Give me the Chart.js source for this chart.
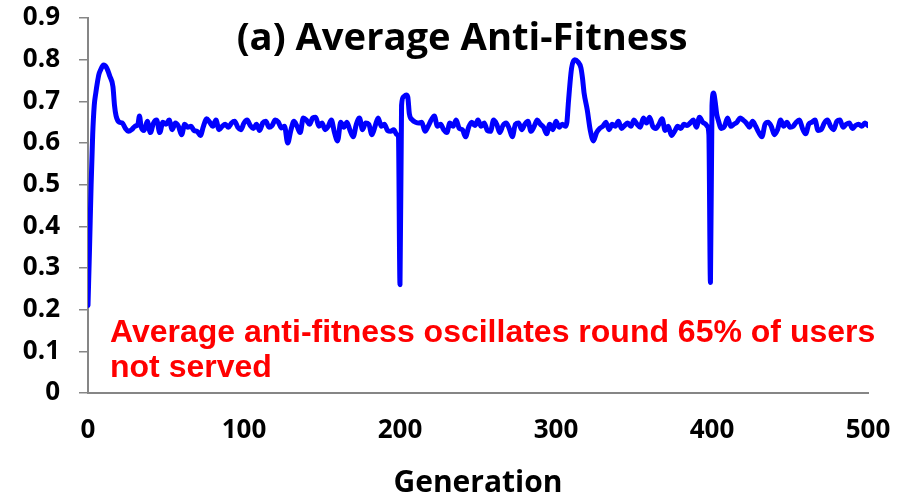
<!DOCTYPE html>
<html>
<head>
<meta charset="utf-8">
<script src="https://cdn.jsdelivr.net/npm/chart.js@4/dist/chart.umd.min.js"></script>
<style>
  html, body { margin: 0; padding: 0; background: #fff; }
  #wrap { width: 906px; height: 497px; position: relative; }
</style>
</head>
<body>
<div id="wrap"><canvas id="fitnessChart" width="906" height="497"></canvas></div>
<script>
// data

const chartTitle = '(a) Average Anti-Fitness';
const noteLines = ['Average anti-fitness oscillates round 65% of users', 'not served'];
const xTickLabels = [0, 100, 200, 300, 400, 500];
const yTickLabels = [0, 0.1, 0.2, 0.3, 0.4, 0.5, 0.6, 0.7, 0.8, 0.9];

const generations = [
    0, 1, 2, 3, 4, 5, 6, 7, 8, 10, 12, 14, 16, 17, 18, 20, 22, 24, 26, 28, 30,
    32, 33, 34, 36, 38, 40, 42, 44, 46, 48, 50, 52, 54, 56, 58, 60, 62, 64, 66, 68,
    70, 72, 74, 76, 78, 80, 82, 84, 86, 88, 90, 92, 94, 96, 98, 100, 102, 104, 106, 108,
    110, 112, 114, 116, 118, 120, 122, 124, 126, 128, 130, 132, 134, 136, 138, 140, 142, 144, 146, 148,
    150, 152, 154, 156, 158, 160, 162, 164, 166, 168, 170, 172, 174, 176, 178, 180, 182, 184, 186, 188,
    190, 192, 194, 196, 198, 199, 200, 201, 202, 204, 205, 206, 208, 210, 212, 214, 216, 218, 220, 222,
    224, 226, 228, 230, 232, 234, 236, 238, 240, 242, 244, 246, 248, 250, 252, 254, 256, 258, 260, 262,
    264, 266, 268, 270, 272, 274, 276, 278, 280, 282, 284, 286, 288, 290, 292, 294, 296, 298, 300, 302,
    304, 306, 307, 308, 310, 312, 314, 316, 317, 318, 320, 322, 324, 326, 328, 330, 332, 334, 336, 338,
    340, 342, 344, 346, 348, 350, 352, 354, 356, 358, 360, 362, 364, 366, 368, 370, 372, 374, 376, 378,
    380, 382, 384, 386, 388, 390, 392, 394, 396, 397, 398, 399, 400, 401, 402, 403, 404, 406, 408, 410,
    412, 414, 416, 418, 420, 422, 424, 426, 428, 430, 432, 434, 436, 438, 440, 442, 444, 446, 448, 450,
    452, 454, 456, 458, 460, 462, 464, 466, 468, 470, 472, 474, 476, 478, 480, 482, 484, 486, 488, 490,
    492, 494, 496, 498, 500
];

const antiFitness = [
    0.21, 0.35, 0.50, 0.62, 0.69, 0.72, 0.745, 0.765, 0.775, 0.787, 0.78, 0.76, 0.735, 0.69, 0.665, 0.65, 0.648, 0.635, 0.628, 0.632, 0.64,
    0.645, 0.665, 0.64, 0.63, 0.652, 0.625, 0.648, 0.655, 0.625, 0.65, 0.645, 0.655, 0.632, 0.648, 0.64, 0.62, 0.645, 0.638, 0.64, 0.63,
    0.628, 0.618, 0.64, 0.658, 0.65, 0.64, 0.655, 0.632, 0.64, 0.645, 0.638, 0.648, 0.652, 0.638, 0.632, 0.648, 0.655, 0.642, 0.635, 0.645,
    0.63, 0.648, 0.652, 0.638, 0.642, 0.655, 0.65, 0.636, 0.64, 0.60, 0.63, 0.652, 0.64, 0.625, 0.66, 0.655, 0.645, 0.66, 0.662, 0.64,
    0.648, 0.632, 0.64, 0.655, 0.625, 0.605, 0.65, 0.638, 0.65, 0.63, 0.615, 0.645, 0.66, 0.632, 0.648, 0.645, 0.62, 0.64, 0.66, 0.64,
    0.645, 0.63, 0.628, 0.632, 0.62, 0.615, 0.26, 0.69, 0.71, 0.715, 0.71, 0.67, 0.655, 0.65, 0.648, 0.65, 0.628, 0.64, 0.655, 0.665,
    0.64, 0.645, 0.632, 0.625, 0.648, 0.64, 0.655, 0.635, 0.632, 0.615, 0.638, 0.65, 0.642, 0.655, 0.64, 0.648, 0.63, 0.628, 0.655, 0.645,
    0.625, 0.642, 0.648, 0.635, 0.615, 0.645, 0.648, 0.632, 0.645, 0.652, 0.628, 0.64, 0.655, 0.645, 0.638, 0.622, 0.645, 0.632, 0.652, 0.638,
    0.645, 0.64, 0.65, 0.70, 0.78, 0.80, 0.795, 0.78, 0.755, 0.72, 0.68, 0.63, 0.605, 0.625, 0.635, 0.64, 0.65, 0.632, 0.645, 0.64,
    0.652, 0.635, 0.642, 0.648, 0.64, 0.655, 0.645, 0.638, 0.66, 0.648, 0.662, 0.64, 0.635, 0.645, 0.658, 0.63, 0.64, 0.618, 0.628, 0.64,
    0.635, 0.645, 0.642, 0.648, 0.655, 0.638, 0.662, 0.65, 0.645, 0.64, 0.62, 0.265, 0.69, 0.72, 0.70, 0.67, 0.655, 0.635, 0.64, 0.66,
    0.64, 0.645, 0.65, 0.66, 0.655, 0.648, 0.638, 0.652, 0.64, 0.625, 0.615, 0.645, 0.65, 0.64, 0.62, 0.632, 0.655, 0.64, 0.65, 0.638,
    0.64, 0.65, 0.655, 0.635, 0.622, 0.645, 0.65, 0.655, 0.63, 0.632, 0.648, 0.655, 0.64, 0.632, 0.652, 0.655, 0.638, 0.645, 0.648, 0.635,
    0.642, 0.645, 0.64, 0.648, 0.642
];

const points = generations.map((g, i) => ({ x: g, y: antiFitness[i] }));

// titre et note en rouge, dessines par-dessus la zone du graphique
const textPlugin = {
    id: 'textPlugin',
    afterDraw(chart) {
        const ctx = chart.ctx;
        ctx.save();
        ctx.fillStyle = '#000';
        ctx.font = 'bold 34px "Open Sans"';
        const w = ctx.measureText(chartTitle).width;
        const size = Math.min(40, 34 * 451 / w);
        ctx.font = 'bold ' + size.toFixed(1) + 'px "Open Sans"';
        ctx.textAlign = 'center';
        ctx.textBaseline = 'middle';
        ctx.fillText(chartTitle, 462, 39);

        ctx.fillStyle = '#FF0000';
        ctx.font = 'bold 32px "Liberation Sans"';
        ctx.textAlign = 'left';
        ctx.fillText(noteLines[0], 110, 333);
        ctx.fillText(noteLines[1], 110, 368);
        ctx.restore();
    }
};

const axisGray = '#868686';
const labelFont = { family: 'Open Sans', weight: 'bold', size: 26 };

new Chart(document.getElementById('fitnessChart'), {
    type: 'line',
    data: {
        datasets: [{
            label: 'Average Anti-Fitness',
            data: points,
            borderColor: '#0000FF',
            borderWidth: 5,
            pointRadius: 0,
            fill: false,
            cubicInterpolationMode: 'monotone',
            borderJoinStyle: 'round',
            borderCapStyle: 'round'
        }]
    },
    plugins: [textPlugin],
    options: {
        responsive: false,
        animation: false,
        layout: { padding: { top: 18, right: 38, left: 0, bottom: 0 } },
        plugins: {
            legend: { display: false },
            tooltip: { enabled: false }
        },
        scales: {
            x: {
                type: 'linear',
                min: xTickLabels[0],
                max: xTickLabels[xTickLabels.length - 1],
                afterBuildTicks: (scale) => { scale.ticks = xTickLabels.map(v => ({ value: v })); },
                grid: { display: true, drawOnChartArea: false, drawTicks: false },
                border: { color: axisGray, width: 2 },
                ticks: {
                    color: '#000',
                    font: labelFont,
                    padding: 22,
                    maxRotation: 0
                },
                title: {
                    display: true,
                    text: 'Generation',
                    color: '#000',
                    font: { family: 'Open Sans', weight: 'bold', size: 30 },
                    padding: { top: 0, bottom: -4 }
                },
                afterFit: (scale) => {
                    scale.height = 104;
                    scale.paddingLeft = 0;
                    scale.paddingRight = 0;
                }
            },
            y: {
                min: 0,
                max: 0.9,
                afterBuildTicks: (scale) => { scale.ticks = yTickLabels.map(v => ({ value: v })); },
                grid: { display: true, drawOnChartArea: false, drawTicks: true, tickLength: 9, color: axisGray, lineWidth: 1.5 },
                border: { color: axisGray, width: 2 },
                ticks: {
                    color: '#000',
                    font: labelFont,
                    padding: 19,
                    callback: (v) => (v === 0 ? '0' : v.toFixed(1))
                },
                afterFit: (scale) => {
                    scale.width = 88;
                    scale.paddingTop = 0;
                    scale.paddingBottom = 0;
                }
            }
        }
    }
});
</script>
</body>
</html>
